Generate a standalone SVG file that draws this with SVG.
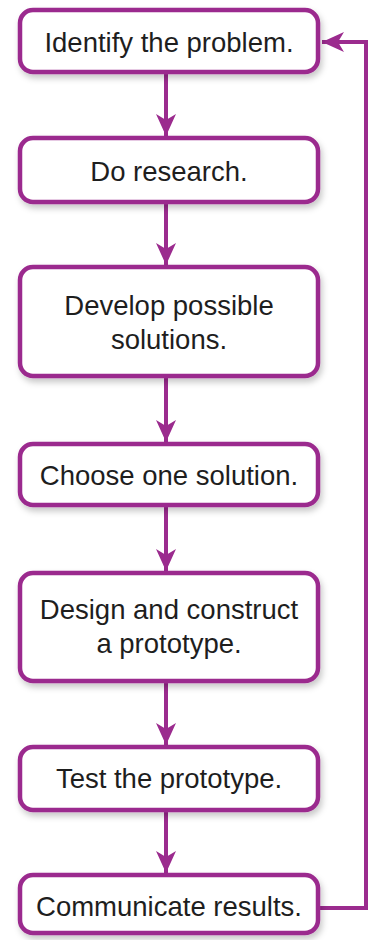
<svg xmlns="http://www.w3.org/2000/svg" width="373" height="940" viewBox="0 0 373 940">
<defs>
<filter id="sh" x="-10%" y="-20%" width="125%" height="150%">
<feDropShadow dx="2" dy="4" stdDeviation="3" flood-color="#000" flood-opacity="0.22"/>
</filter>
<marker id="ah" viewBox="0 0 22 20" refX="22" refY="10" markerWidth="22" markerHeight="20" markerUnits="userSpaceOnUse" orient="auto">
<path d="M0,0 L22,10 L0,20 L6,10 Z" fill="#9b2b8e"/>
</marker>
<style>
.box{fill:#fff;stroke:#9b2b8e;stroke-width:4.5;filter:url(#sh)}
.t{font-family:"Liberation Sans","DejaVu Sans",sans-serif;font-size:27.5px;fill:#1e1e1e;text-anchor:middle}
.c{fill:none;stroke:#9b2b8e;stroke-width:4}
</style>
</defs>
<rect width="373" height="940" fill="#fff"/>
<g id="connectors">
<line class="c" x1="166" y1="73" x2="166" y2="136" marker-end="url(#ah)"/>
<line class="c" x1="166" y1="204" x2="166" y2="265" marker-end="url(#ah)"/>
<line class="c" x1="166" y1="378" x2="166" y2="442" marker-end="url(#ah)"/>
<line class="c" x1="166" y1="507" x2="166" y2="571" marker-end="url(#ah)"/>
<line class="c" x1="166" y1="683" x2="166" y2="745" marker-end="url(#ah)"/>
<line class="c" x1="166" y1="812" x2="166" y2="873" marker-end="url(#ah)"/>
<polyline class="c" points="318,908 366,908 366,42 322,42" marker-end="url(#ah)"/>
</g>
<g id="n1"><rect class="box" x="20" y="10" width="298" height="62" rx="13"/><text class="t" x="169" y="52">Identify the problem.</text></g>
<g id="n2"><rect class="box" x="20" y="138" width="298" height="64" rx="13"/><text class="t" x="169" y="181">Do research.</text></g>
<g id="n3"><rect class="box" x="20" y="267" width="298" height="109" rx="13"/><text class="t" x="169" y="315">Develop possible</text><text class="t" x="169" y="349">solutions.</text></g>
<g id="n4"><rect class="box" x="20" y="444" width="298" height="61" rx="13"/><text class="t" x="169" y="485">Choose one solution.</text></g>
<g id="n5"><rect class="box" x="20" y="573" width="298" height="108" rx="13"/><text class="t" x="169" y="619">Design and construct</text><text class="t" x="169" y="653">a prototype.</text></g>
<g id="n6"><rect class="box" x="20" y="747" width="298" height="63" rx="13"/><text class="t" x="169" y="788">Test the prototype.</text></g>
<g id="n7"><rect class="box" x="20" y="875" width="298" height="58" rx="13"/><text class="t" x="169" y="916">Communicate results.</text></g>
</svg>
